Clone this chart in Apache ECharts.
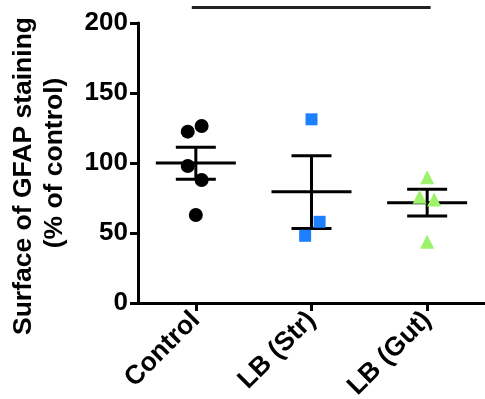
<!DOCTYPE html>
<html>
<head>
<meta charset="utf-8">
<script src="https://cdn.jsdelivr.net/npm/echarts@6/dist/echarts.min.js"></script>
<style>
html,body{margin:0;padding:0;background:#fff;}
#c{width:485px;height:399px;}
</style>
</head>
<body>
<div id="c"></div>
<script>
// ---- data ----
var categories = ['Control', 'LB (Str)', 'LB (Gut)'];
var yTicks = [0, 50, 100, 150, 200];
var yTitleLine1 = 'Surface of GFAP staining';
var yTitleLine2 = '(% of control)';

var controlValues = [122.4, 126.4, 97.9, 87.9, 62.9];
var controlJitter = [-0.07, 0.05, -0.07, 0.05, 0];

var strValues = [131.2, 58.0, 48.0];
var strJitter = [0.0, 0.07, -0.055];

var gutValues = [89.8, 75.9, 74.0, 43.8];
var gutJitter = [0.0, -0.065, 0.06, 0.0];

// mean, SEM low, SEM high
var means = [100.0, 79.5, 71.6];
var semLow = [88.4, 53.3, 62.1];
var semHigh = [111.2, 105.2, 81.2];

// significance bar: from group, to group, level
var sigFrom = -0.035;
var sigTo = 2.03;
var sigLevel = 211;

// ---- chart ----
var FONT = '"Liberation Sans", Arial, sans-serif';
function pts(vals, jit, idx) {
  return vals.map(function (v, i) { return [idx + jit[i], v]; });
}
var summary = means.map(function (m, i) { return [i, m, semLow[i], semHigh[i]]; });

var chart = echarts.init(document.getElementById('c'), null, {renderer: 'canvas'});
chart.setOption({
  animation: false,
  backgroundColor: '#fff',
  grid: {left: 138, right: 0, top: 23, bottom: 96, containLabel: false, outerBoundsMode: 'none'},
  xAxis: [{
    type: 'category',
    data: categories,
    boundaryGap: true,
    axisLine: {show: true, onZero: false, lineStyle: {color: '#000', width: 3}},
    axisTick: {show: true, alignWithLabel: true, length: 8, lineStyle: {color: '#000', width: 3}},
    axisLabel: {rotate: 45, fontSize: 26.5, fontWeight: 'bold', color: '#000', fontFamily: FONT, margin: 13},
    splitLine: {show: false}
  }, {
    type: 'value',
    min: -0.5, max: 2.5,
    show: false
  }],
  yAxis: {
    type: 'value',
    min: 0, max: 200, interval: 50,
    name: '{a|' + yTitleLine1 + '}\n{b|' + yTitleLine2 + '}',
    nameLocation: 'middle',
    nameRotate: 90,
    nameGap: 68,
    nameTextStyle: {
      fontSize: 26.5, fontWeight: 'bold', color: '#000', fontFamily: FONT, lineHeight: 31,
      rich: {
        a: {fontSize: 26.5, fontWeight: 'bold', color: '#000', fontFamily: FONT, lineHeight: 31, padding: [0, 26, 0, 0]},
        b: {fontSize: 26.5, fontWeight: 'bold', color: '#000', fontFamily: FONT, lineHeight: 31}
      }
    },
    axisLine: {show: true, onZero: false, lineStyle: {color: '#000', width: 3}},
    axisTick: {show: true, length: 8, lineStyle: {color: '#000', width: 3}},
    axisLabel: {fontSize: 26, fontWeight: 'bold', color: '#000', fontFamily: FONT, margin: 10,
      formatter: function (v) { return yTicks.indexOf(v) >= 0 ? String(v) : ''; }},
    splitLine: {show: false}
  },
  series: [
    {
      type: 'custom',
      xAxisIndex: 1,
      z: 2,
      data: summary,
      renderItem: function (params, api) {
        var x = api.value(0);
        var m = api.coord([x, api.value(1)]);
        var lo = api.coord([x, api.value(2)]);
        var hi = api.coord([x, api.value(3)]);
        var st = {stroke: '#000', lineWidth: 3};
        return {type: 'group', children: [
          {type: 'line', shape: {x1: m[0] - 40, y1: m[1], x2: m[0] + 40, y2: m[1]}, style: st},
          {type: 'line', shape: {x1: lo[0], y1: lo[1], x2: hi[0], y2: hi[1]}, style: st},
          {type: 'line', shape: {x1: hi[0] - 20, y1: hi[1], x2: hi[0] + 20, y2: hi[1]}, style: st},
          {type: 'line', shape: {x1: lo[0] - 20, y1: lo[1], x2: lo[0] + 20, y2: lo[1]}, style: st}
        ]};
      }
    },
    {
      type: 'custom',
      xAxisIndex: 1,
      clip: false,
      z: 2,
      data: [[sigFrom, sigTo, sigLevel]],
      renderItem: function (params, api) {
        var a = api.coord([api.value(0), api.value(2)]);
        var b = api.coord([api.value(1), api.value(2)]);
        return {type: 'line', shape: {x1: a[0], y1: a[1], x2: b[0], y2: b[1]},
          style: {stroke: '#222', lineWidth: 3}};
      }
    },
    {
      type: 'scatter', xAxisIndex: 1, z: 5,
      symbol: 'circle', symbolSize: 14,
      itemStyle: {color: '#000', opacity: 1},
      data: pts(controlValues, controlJitter, 0)
    },
    {
      type: 'scatter', xAxisIndex: 1, z: 5,
      symbol: 'rect', symbolSize: 12,
      itemStyle: {color: '#1E80FF', opacity: 1},
      data: pts(strValues, strJitter, 1)
    },
    {
      type: 'scatter', xAxisIndex: 1, z: 5,
      symbol: 'triangle', symbolSize: 14,
      itemStyle: {color: '#9CF26A', opacity: 1},
      data: pts(gutValues, gutJitter, 2)
    }
  ]
});
</script>
</body>
</html>
